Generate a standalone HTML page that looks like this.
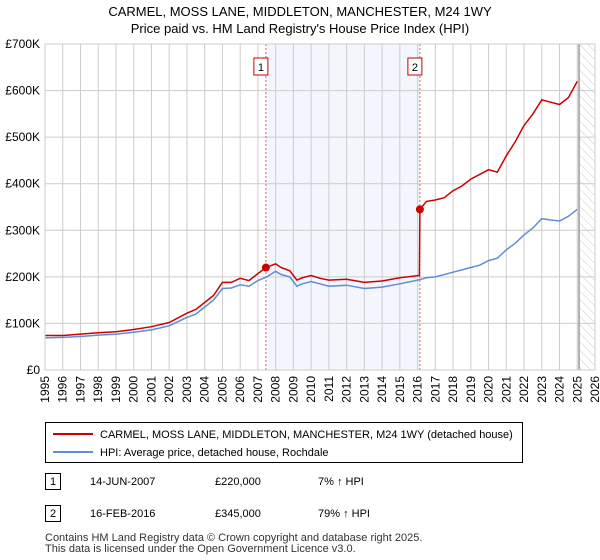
<!DOCTYPE html>
<html><head><meta charset="utf-8"><style>
body{margin:0;width:600px;height:560px;background:#fff;font-family:"Liberation Sans","DejaVu Sans",sans-serif;color:#000;overflow:hidden}
</style></head><body>
<svg width="600" height="560" style="position:absolute;left:0;top:0">
<defs><pattern id="hatch" width="6" height="6" patternUnits="userSpaceOnUse" patternTransform="rotate(-45)"><line x1="0" y1="0" x2="0" y2="6" stroke="#ccc" stroke-width="1"/></pattern></defs>
<text x="300" y="16" text-anchor="middle" font-size="13">CARMEL, MOSS LANE, MIDDLETON, MANCHESTER, M24 1WY</text>
<text x="300" y="33" text-anchor="middle" font-size="13">Price paid vs. HM Land Registry's House Price Index (HPI)</text>
<g id="plot"></g>
<g>
<rect x="45.5" y="422.5" width="477" height="40" fill="#fff" stroke="#000"/>
<line x1="53" y1="434" x2="93" y2="434" stroke="#cc0000" stroke-width="2"/>
<text x="100" y="438" font-size="11">CARMEL, MOSS LANE, MIDDLETON, MANCHESTER, M24 1WY (detached house)</text>
<line x1="53" y1="452" x2="93" y2="452" stroke="#5b8fd6" stroke-width="2"/>
<text x="100" y="456" font-size="11">HPI: Average price, detached house, Rochdale</text>
</g>
<g font-size="11">
<rect x="45.5" y="473.5" width="15" height="16" fill="#fff" stroke="#000"/><text x="53" y="485" text-anchor="middle">1</text>
<text x="90" y="485">14-JUN-2007</text><text x="215" y="485">£220,000</text><text x="318" y="485">7% ↑ HPI</text>
<rect x="45.5" y="505.5" width="15" height="16" fill="#fff" stroke="#000"/><text x="53" y="517" text-anchor="middle">2</text>
<text x="90" y="517">16-FEB-2016</text><text x="215" y="517">£345,000</text><text x="318" y="517">79% ↑ HPI</text>
</g>
<text x="45" y="541" font-size="11" fill="#333">Contains HM Land Registry data © Crown copyright and database right 2025.</text>
<text x="45" y="552" font-size="11" fill="#333">This data is licensed under the Open Government Licence v3.0.</text>
</svg>
<script>
const hpiYears=[1995,1996,1997,1998,1999,2000,2001,2002,2003,2003.5,2004,2004.5,2005,2005.5,2006,2006.5,2007,2007.5,2008,2008.3,2008.8,2009.2,2009.5,2010,2010.5,2011,2012,2013,2014,2015,2016,2016.5,2017,2018,2019,2019.5,2020,2020.5,2021,2021.5,2022,2022.5,2023,2023.5,2024,2024.5,2025];
const hpiValues=[69,70,72,75,77,81,86,95,113,120,135,150,175,176,183,180,192,200,212,205,200,180,185,190,185,180,182,175,178,185,193,198,200,210,220,225,235,240,258,272,290,305,325,322,320,330,345];
const priceYears=[1995,1996,1997,1998,1999,2000,2001,2002,2003,2003.5,2004,2004.5,2005,2005.5,2006,2006.5,2007,2007.45,2008,2008.3,2008.8,2009.2,2009.5,2010,2010.5,2011,2012,2013,2014,2015,2016.1,2016.13,2016.5,2017,2017.5,2018,2018.5,2019,2019.5,2020,2020.5,2021,2021.5,2022,2022.5,2023,2023.5,2024,2024.5,2025];
const priceValues=[74,74,77,80,82,87,93,102,122,130,145,160,188,188,197,192,207,220,228,220,213,193,198,203,197,193,195,188,191,198,203,345,362,365,370,385,395,410,420,430,425,460,490,525,550,580,575,570,585,620];
const saleYears=[2007.45,2016.13];
const saleValues=[220,345];
const saleLabels=["1","2"];
const xTicks=[1995,1996,1997,1998,1999,2000,2001,2002,2003,2004,2005,2006,2007,2008,2009,2010,2011,2012,2013,2014,2015,2016,2017,2018,2019,2020,2021,2022,2023,2024,2025,2026];
const yTicks=[0,100,200,300,400,500,600,700];
const yLabels=["£0","£100K","£200K","£300K","£400K","£500K","£600K","£700K"];
const X0=45,X1=595,Y0=370,Y1=44;
const x=v=>X0+(v-1995)/(2026-1995)*(X1-X0);
const y=v=>Y0-v/700*(Y0-Y1);
const NS="http://www.w3.org/2000/svg";
const g=document.getElementById('plot');
function mk(t,a,p){const e=document.createElementNS(NS,t);for(const k in a)e.setAttribute(k,a[k]);(p||g).appendChild(e);return e;}
let r=mk('rect',{x:x(saleYears[0]),y:Y1,width:x(saleYears[1])-x(saleYears[0]),height:Y0-Y1,fill:'#eef3fc',opacity:0.7});


let h=mk('rect',{x:x(2025.1),y:Y1,width:X1-x(2025.1),height:Y0-Y1,fill:'url(#hatch)'});


xTicks.forEach(t=>{const l=mk('line',{x1:x(t),x2:x(t),y1:Y1,y2:Y0,stroke:'#ccc'});


const tx=mk('text',{x:0,y:0,'font-size':12,'text-anchor':'end',transform:`translate(${x(t)+4},${Y0+6}) rotate(-90)`});tx.textContent=t;

});
yTicks.forEach((t,i)=>{const l=mk('line',{x1:X0,x2:X1,y1:y(t),y2:y(t),stroke:'#ccc'});


const tx=mk('text',{x:X0-5,y:y(t)+4,'font-size':12,'text-anchor':'end'});tx.textContent=yLabels[i];

});
let nl=mk('line',{x1:x(2025.1),x2:x(2025.1),y1:Y1,y2:Y0,stroke:'#999','stroke-width':1.5});


saleYears.forEach((s,i)=>{const l=mk('line',{x1:x(s),x2:x(s),y1:Y1,y2:Y0,stroke:'#e06060','stroke-dasharray':'2,2'});


const b=mk('rect',{x:x(s)-12,y:58,width:14,height:17,fill:'#fff',stroke:'#cc0000'});


const t=mk('text',{x:x(s)-5,y:71,'font-size':11,'text-anchor':'middle'});t.textContent=saleLabels[i];

});
const path=(xs,vs)=>xs.map((a,i)=>(i?'L':'M')+x(a).toFixed(1)+','+y(vs[i]).toFixed(1)).join('');
let hp=mk('path',{d:path(hpiYears,hpiValues),fill:'none',stroke:'#5b8fd6','stroke-width':1.5});


let pp=mk('path',{d:path(priceYears,priceValues),fill:'none',stroke:'#cc0000','stroke-width':1.5});


saleYears.forEach((s,i)=>{const c=mk('circle',{cx:x(s),cy:y(saleValues[i]),r:4,fill:'#cc0000'});

});
let bd=mk('rect',{x:X0,y:Y1,width:X1-X0,height:Y0-Y1,fill:'none',stroke:'#ccc'});


</script>
</body></html>
